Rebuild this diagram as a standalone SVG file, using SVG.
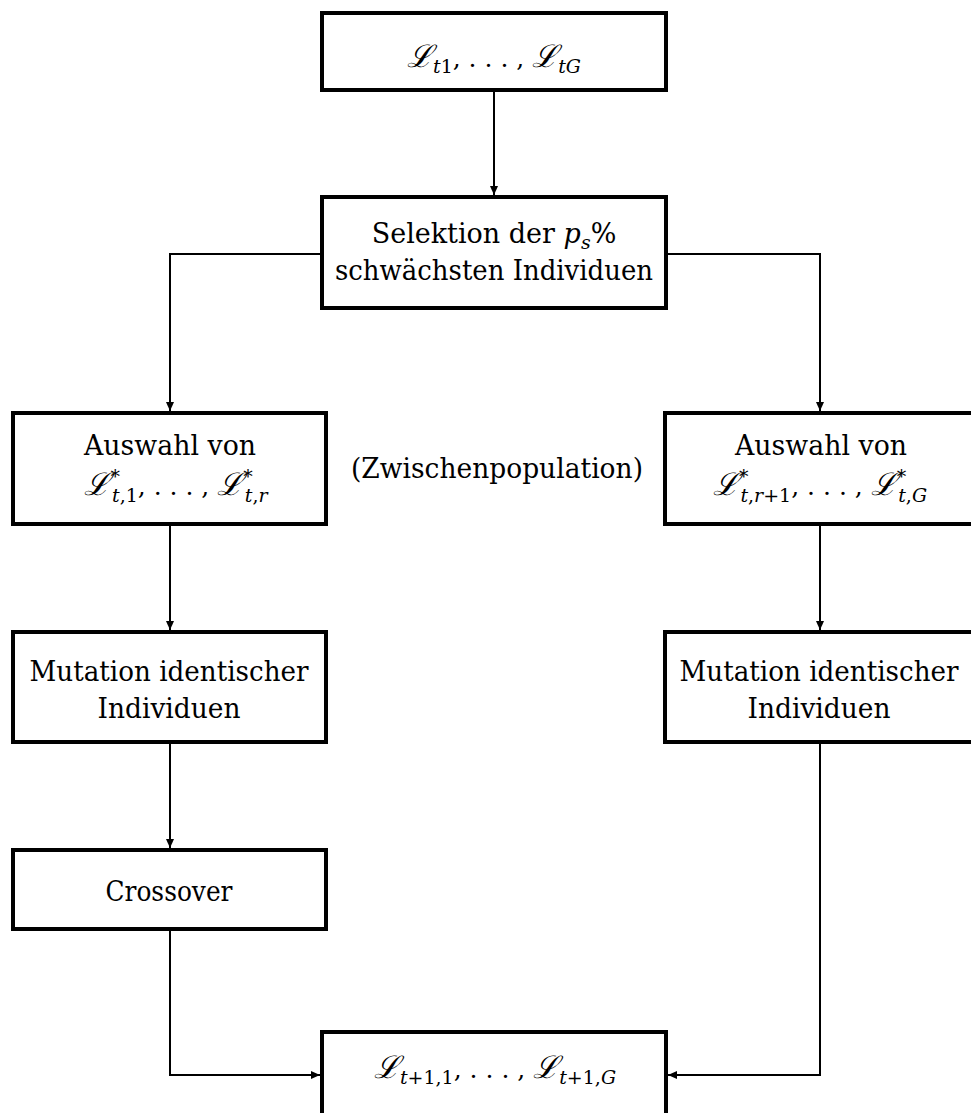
<svg xmlns="http://www.w3.org/2000/svg" width="971" height="1113" viewBox="0 0 971 1113">
<style>
.box{fill:#fff;stroke:#000;stroke-width:4}
.con{fill:none;stroke:#000;stroke-width:2}
text{font-family:'DejaVu Serif',serif;font-size:27px;fill:#000;text-anchor:middle}
.i{font-style:italic}
.s{font-size:19px}
.d{font-size:25px}
.L{font-family:'DejaVu Serif',serif;font-style:italic;font-size:31px}
</style>
<defs>
<marker id="ah" markerWidth="10" markerHeight="8" refX="9" refY="4" orient="auto" markerUnits="userSpaceOnUse">
<path d="M0,0 L9,4 L0,8 Z" fill="#000"/>
</marker>
</defs>
<g id="connectors">
<path class="con" d="M494,91 V195" marker-end="url(#ah)"/>
<path class="con" d="M322,254 H170 V411" marker-end="url(#ah)"/>
<path class="con" d="M666,254 H820 V411" marker-end="url(#ah)"/>
<path class="con" d="M170,525 V630" marker-end="url(#ah)"/>
<path class="con" d="M820,525 V630" marker-end="url(#ah)"/>
<path class="con" d="M170,742 V848" marker-end="url(#ah)"/>
<path class="con" d="M170,929 V1075 H320" marker-end="url(#ah)"/>
<path class="con" d="M820,742 V1075 H668" marker-end="url(#ah)"/>
</g>
<g id="n_top">
<rect class="box" x="322" y="13" width="344" height="77"/>
<text x="494" y="67"><tspan class="L">ℒ</tspan><tspan class="s" dy="6"><tspan class="i">t</tspan>1</tspan><tspan class="d" dy="-6">, . . . , </tspan><tspan class="L">ℒ</tspan><tspan class="s i" dy="6">tG</tspan></text>
</g>
<g id="n_sel">
<rect class="box" x="322" y="197" width="344" height="111"/>
<text x="494" y="243">Selektion der <tspan class="i">p</tspan><tspan class="s i" dy="6">s</tspan><tspan dy="-6">%</tspan></text>
<text x="494" y="280" textLength="318" lengthAdjust="spacingAndGlyphs">schwächsten Individuen</text>
</g>
<g id="n_ausL">
<rect class="box" x="13" y="413" width="313" height="111"/>
<text x="170" y="455" textLength="172" lengthAdjust="spacingAndGlyphs">Auswahl von</text>
<text x="176" y="495"><tspan class="L">ℒ</tspan><tspan class="s" dy="-12">*</tspan><tspan class="s" dx="-8" dy="19"><tspan class="i">t</tspan>,1</tspan><tspan class="d" dy="-7">, . . . , </tspan><tspan class="L">ℒ</tspan><tspan class="s" dy="-12">*</tspan><tspan class="s" dx="-8" dy="19"><tspan class="i">t</tspan>,<tspan class="i">r</tspan></tspan></text>
</g>
<g id="n_zw">
<text x="497" y="478" textLength="292" lengthAdjust="spacingAndGlyphs">(Zwischenpopulation)</text>
</g>
<g id="n_ausR">
<rect class="box" x="665" y="413" width="320" height="111"/>
<text x="821" y="455" textLength="172" lengthAdjust="spacingAndGlyphs">Auswahl von</text>
<text x="820" y="495"><tspan class="L">ℒ</tspan><tspan class="s" dy="-12">*</tspan><tspan class="s" dx="-8" dy="19"><tspan class="i">t</tspan>,<tspan class="i">r</tspan>+1</tspan><tspan class="d" dy="-7">, . . . , </tspan><tspan class="L">ℒ</tspan><tspan class="s" dy="-12">*</tspan><tspan class="s" dx="-8" dy="19"><tspan class="i">t</tspan>,<tspan class="i">G</tspan></tspan></text>
</g>
<g id="n_mutL">
<rect class="box" x="13" y="632" width="313" height="110"/>
<text x="169" y="681" textLength="279" lengthAdjust="spacingAndGlyphs">Mutation identischer</text>
<text x="169" y="718" textLength="143" lengthAdjust="spacingAndGlyphs">Individuen</text>
</g>
<g id="n_mutR">
<rect class="box" x="665" y="632" width="320" height="110"/>
<text x="819" y="681" textLength="279" lengthAdjust="spacingAndGlyphs">Mutation identischer</text>
<text x="819" y="718" textLength="143" lengthAdjust="spacingAndGlyphs">Individuen</text>
</g>
<g id="n_cross">
<rect class="box" x="13" y="850" width="313" height="79"/>
<text x="169" y="901" textLength="127" lengthAdjust="spacingAndGlyphs">Crossover</text>
</g>
<g id="n_bot">
<rect class="box" x="322" y="1032" width="344" height="100"/>
<text x="495" y="1078"><tspan class="L">ℒ</tspan><tspan class="s" dy="6"><tspan class="i">t</tspan>+1,1</tspan><tspan class="d" dy="-6">, . . . , </tspan><tspan class="L">ℒ</tspan><tspan class="s" dy="6"><tspan class="i">t</tspan>+1,<tspan class="i">G</tspan></tspan></text>
</g>
</svg>
